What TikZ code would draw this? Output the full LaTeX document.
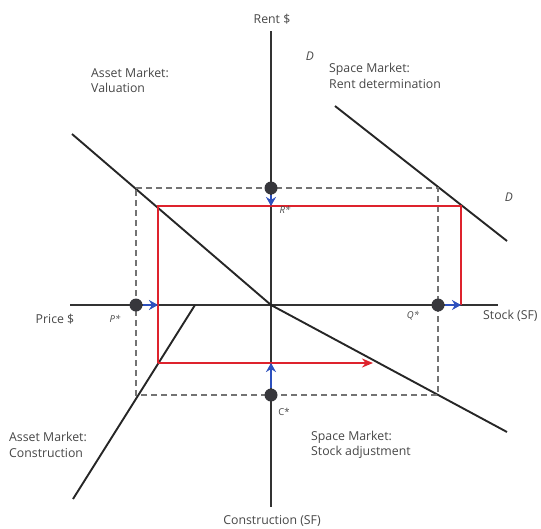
\documentclass[tikz,border=0pt]{standalone}
\usepackage{fontspec}
\setmainfont{Open Sans}
\usetikzlibrary{arrows.meta}
\definecolor{eqred}{RGB}{222,35,45}
\definecolor{adjblue}{RGB}{45,80,190}
\definecolor{dotgray}{RGB}{55,55,60}
\definecolor{txtgray}{RGB}{70,70,70}
\begin{document}
\begin{tikzpicture}[x=1pt,y=-1pt,
  axisline/.style={draw=black!80, line width=1.4pt},
  mktcurve/.style={draw=black!85, line width=1.9pt},
  guideline/.style={draw=black!55, line width=1.1pt, dash pattern=on 6pt off 4pt},
  eqpath/.style={draw=eqred, line width=2.6pt},
  eqarrow/.style={eqpath, -{Stealth[length=11pt,width=9pt]}},
  nudgearrow/.style={draw=adjblue, line width=2.2pt, -{Stealth[length=9pt,width=10pt]}},
  eqdot/.style={circle, fill=dotgray, minimum size=13pt, inner sep=0pt},
  lbl/.style={font=\fontsize{12.3}{15.5}\selectfont, text=txtgray, align=left, inner sep=0pt},
  axlbl/.style={font=\fontsize{12.3}{15}\selectfont, text=txtgray, inner sep=0pt},
  curvelbl/.style={font=\fontsize{12}{13}\selectfont\itshape, text=txtgray, inner sep=0pt},
  starlbl/.style={font=\fontsize{9.5}{10}\selectfont\itshape, text=txtgray, inner sep=0pt}]
\useasboundingbox (0,0) rectangle (541,528);

% axes
\coordinate (O) at (271,305);
\coordinate (ytop) at (271,31);
\coordinate (ybot) at (271,507);
\coordinate (xleft) at (70,305);
\coordinate (xright) at (498,305);
\draw[axisline] (ytop) -- (ybot);
\draw[axisline] (xleft) -- (xright);

% the four market schedules
\coordinate (valA) at (72,134);
\coordinate (stkB) at (507,432);
\coordinate (conA) at (195,305);
\coordinate (conB) at (73,499);
\coordinate (demA) at (335,106);
\coordinate (demB) at (507,241);
\draw[mktcurve] (valA) -- (O);
\draw[mktcurve] (O) -- (stkB);
\draw[mktcurve] (conA) -- (conB);
\draw[mktcurve] (demA) -- (demB);

% initial equilibrium (dashed)
\coordinate (g1) at (136,188);
\coordinate (g2) at (438,188);
\coordinate (g3) at (438,395);
\coordinate (g4) at (136,395);
\draw[guideline] (g1) -- (g2) -- (g3) -- (g4) -- cycle;

% new equilibrium path (red)
\coordinate (r1) at (461,305);
\coordinate (r2) at (461,206);
\coordinate (r3) at (158,206);
\coordinate (r4) at (158,363);
\coordinate (r5) at (373,363);
\draw[eqpath, line join=miter] (r1) -- (r2) -- (r3) -- (r4);
\draw[eqarrow] (r4) -- (r5);

% shifts from the old to the new values
\coordinate (rT) at (271,206);
\coordinate (pT) at (158,305);
\coordinate (qT) at (461,305);
\coordinate (cT) at (271,363);
\node[eqdot] (rdot) at (271,188) {};
\node[eqdot] (pdot) at (136,305) {};
\node[eqdot] (qdot) at (438,305) {};
\node[eqdot] (cdot) at (271,395) {};
\draw[nudgearrow] (rdot.south) -- (rT);
\draw[nudgearrow] (pdot.east) -- (pT);
\draw[nudgearrow] (qdot.east) -- (qT);
\draw[nudgearrow] (cdot.north) -- (cT);

% axis labels
\node[axlbl] (rentlbl) at (272,19) {Rent \$};
\node[axlbl] (conslbl) at (272,521) {Construction (SF)};
\node[axlbl] (pricelbl) at (55,319) {Price \$};
\node[axlbl, anchor=west] (stocklbl) at (483,316) {Stock (SF)};

% quadrant labels
\node[lbl, anchor=west] (qval) at (91,80.5) {Asset Market:\\Valuation};
\node[lbl, anchor=west] (qrent) at (329,76) {Space Market:\\Rent determination};
\node[lbl, anchor=west] (qcons) at (9,445) {Asset Market:\\Construction};
\node[lbl, anchor=west] (qstock) at (311,445) {Space Market:\\Stock adjustment};

% curve and equilibrium labels
\node[curvelbl] (d1) at (310,56) {D};
\node[curvelbl] (d2) at (509,197) {D};
\node[starlbl] (rstar) at (285,210) {R*};
\node[starlbl] (pstar) at (115,319) {P*};
\node[starlbl] (qstar) at (413,316) {Q*};
\node[starlbl, font=\fontsize{9.5}{10}\selectfont] (cstar) at (284,412) {C*};
\end{tikzpicture}
\end{document}
